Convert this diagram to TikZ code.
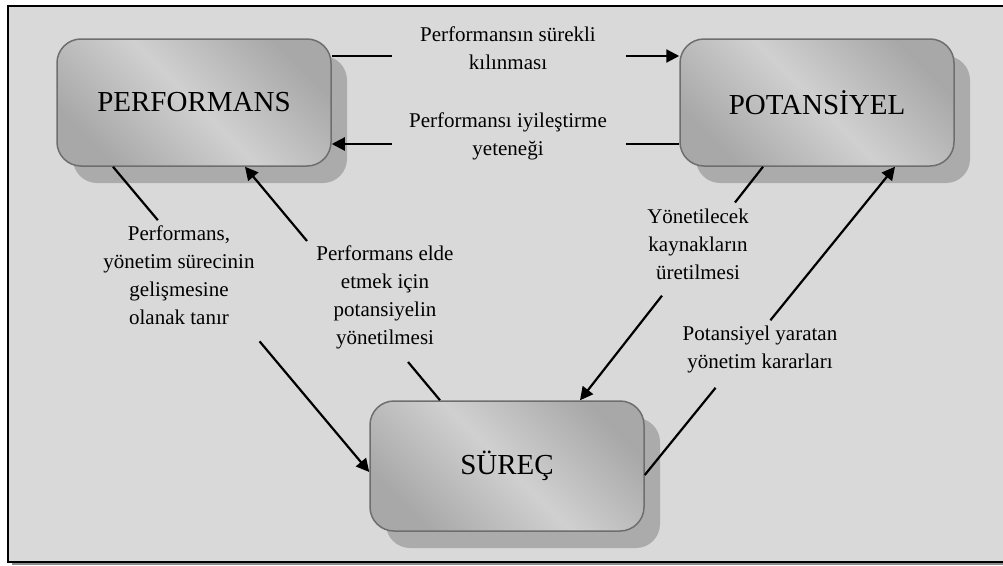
\documentclass[tikz,border=0pt]{standalone}
\usepackage{fontspec}
\setmainfont{Liberation Serif}
\usetikzlibrary{calc,arrows.meta,shadows}
\definecolor{bg}{HTML}{D9D9D9}
\definecolor{shd}{HTML}{ABABAB}
\definecolor{bdr}{HTML}{6E6E6E}
\definecolor{gdark}{HTML}{A8A8A8}
\definecolor{glight}{HTML}{D0D0D0}
\definecolor{frameshd}{HTML}{8C8C8C}
\tikzset{
  box/.style={draw=bdr, line width=1.5pt,
    minimum width=274pt, minimum height=127pt, inner sep=0pt,
    top color=gdark, bottom color=gdark, middle color=glight, shading angle=-45,
    drop shadow={shadow xshift=16pt, shadow yshift=-17pt, fill=shd, opacity=1},
    font=\fontsize{29}{34}\selectfont},
  lbl/.style={align=center, inner sep=0pt, font=\fontsize{21}{28}\selectfont},
  conn/.style={line width=2.2pt, black},
  arr/.style={conn, -{Triangle[length=13pt,width=13pt]}},
}
\begin{document}
\begin{tikzpicture}[x=1pt,y=-1pt]
\useasboundingbox (0,0) rectangle (1003,565);
\begin{scope}
\clip (0,0) rectangle (1003,565);
\fill[frameshd] (12,9) rectangle (1020,565);
\draw[line width=2pt, fill=bg] (8,6) rectangle (1015,561.5);
\end{scope}

\begin{scope}[rounded corners=24pt]
\node[box] (perf) at (194,102.5) {PERFORMANS};
\node[box] (pot) at (817,102.5) {POTANSİYEL};
\node[box, minimum height=130pt] (sur) at (507,466) {SÜREÇ};
\end{scope}

% top pair
\draw[conn] ([yshift=46.5pt]perf.east) -- ($([yshift=46.5pt]perf.east)!0.172!([yshift=46.5pt]pot.west)$);
\draw[arr] ($([yshift=46.5pt]perf.east)!0.848!([yshift=46.5pt]pot.west)$) -- ([yshift=46.5pt]pot.west);
\draw[conn] ([yshift=-41.5pt]pot.west) -- ($([yshift=-41.5pt]pot.west)!0.152!([yshift=-41.5pt]perf.east)$);
\draw[arr] ($([yshift=-41.5pt]pot.west)!0.828!([yshift=-41.5pt]perf.east)$) -- ([yshift=-41.5pt]perf.east);

% perf -> sur
\draw[conn] ([xshift=-81pt]perf.south) -- ($([xshift=-81pt]perf.south)!0.175!([yshift=-6pt]sur.west)$);
\draw[arr] ($([xshift=-81pt]perf.south)!0.572!([yshift=-6pt]sur.west)$) -- ([yshift=-6pt]sur.west);

% sur -> perf
\draw[conn] ([xshift=-67pt]sur.north) -- ($([xshift=-67pt]sur.north)!0.164!([xshift=51pt]perf.south)$);
\draw[arr] ($([xshift=-67pt]sur.north)!0.682!([xshift=51pt]perf.south)$) -- ([xshift=51pt]perf.south);

% pot -> sur
\draw[conn] ([xshift=-54pt]pot.south) -- ($([xshift=-54pt]pot.south)!0.153!([xshift=73pt]sur.north)$);
\draw[arr] ($([xshift=-54pt]pot.south)!0.552!([xshift=73pt]sur.north)$) -- ([xshift=73pt]sur.north);

% sur -> pot
\draw[conn] ([yshift=-9pt]sur.east) -- ($([yshift=-9pt]sur.east)!0.283!([xshift=78pt]pot.south)$);
\draw[arr] ($([yshift=-9pt]sur.east)!0.502!([xshift=78pt]pot.south)$) -- ([xshift=78pt]pot.south);

% labels
\node[lbl] (l1) at (508,48) {Performansın sürekli\\kılınması};
\node[lbl] (l2) at (508,136) {Performansı iyileştirme\\yeteneği};
\node[lbl] (l3) at (179,275) {Performans,\\yönetim sürecinin\\gelişmesine\\olanak tanır};
\node[lbl] (l4) at (385,297) {Performans elde\\etmek için\\potansiyelin\\yönetilmesi};
\node[lbl] (l5) at (698,244) {Yönetilecek\\kaynakların\\üretilmesi};
\node[lbl] (l6) at (760,349) {Potansiyel yaratan\\yönetim kararları};
\end{tikzpicture}
\end{document}
